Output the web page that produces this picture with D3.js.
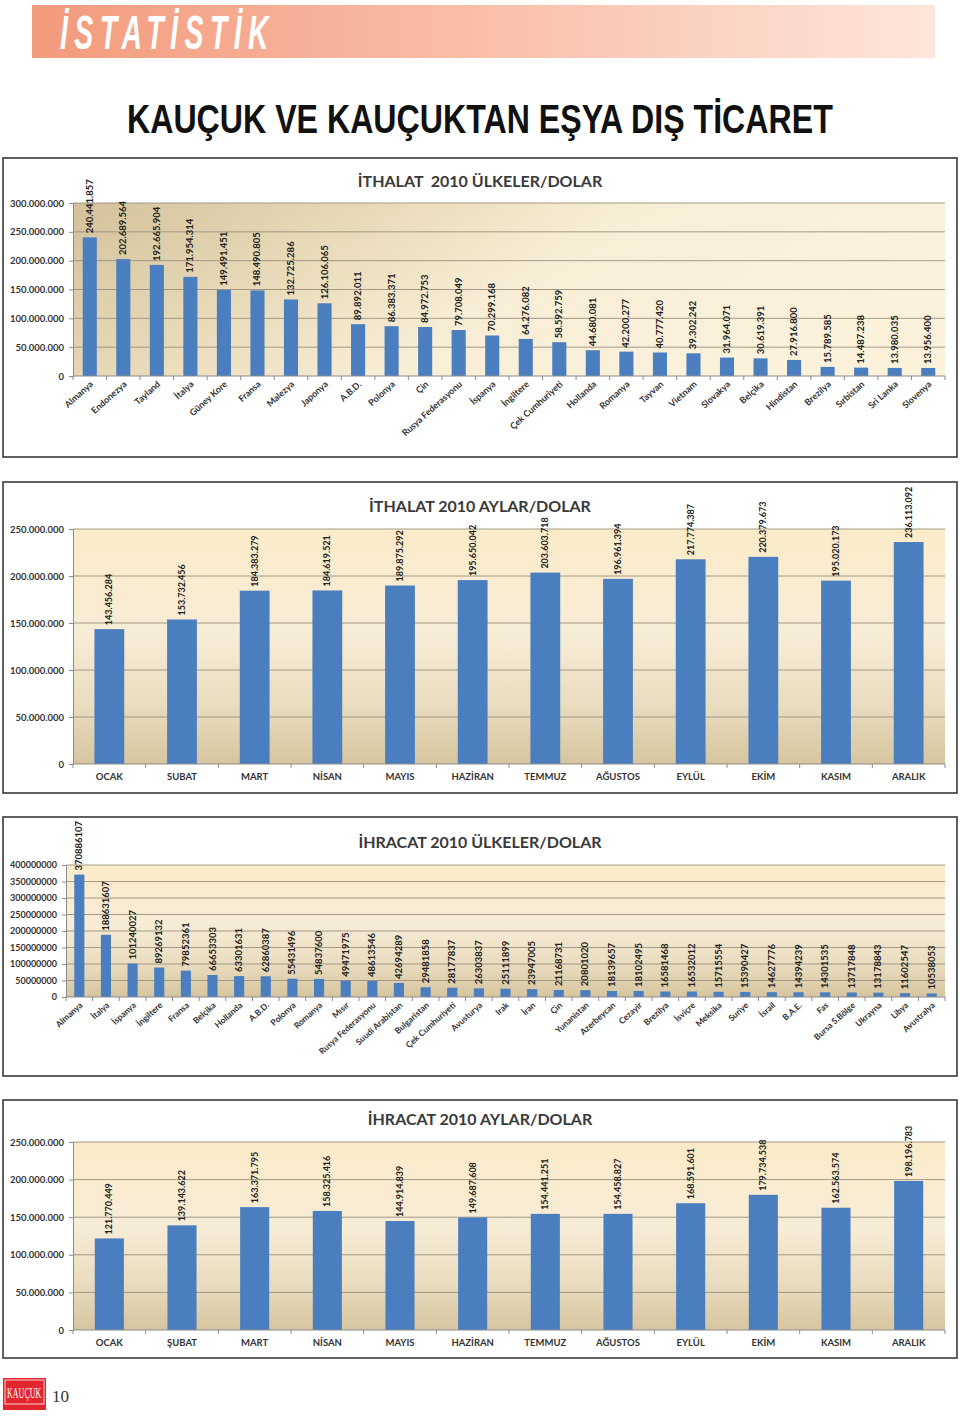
<!DOCTYPE html>
<html>
<head>
<meta charset="utf-8">
<script src="https://cdn.jsdelivr.net/npm/d3@7"></script>
<style>
  html, body { margin: 0; padding: 0; background: #ffffff; }
  svg { display: block; }
</style>
</head>
<body>
<svg id="page" width="960" height="1416"></svg>
<script>
// ---------- DATA ----------
const importCountries = ["Almanya","Endonezya","Tayland","İtalya","Güney Kore","Fransa","Malezya","Japonya","A.B.D.","Polonya","Çin","Rusya Federasyonu","İspanya","İngiltere","Çek Cumhuriyeti","Hollanda","Romanya","Tayvan","Vietnam","Slovakya","Belçika","Hindistan","Brezilya","Sırbistan","Sri Lanka","Slovenya"];
const importCountryValues = [240441857,202689564,192665904,171954314,149491451,148490805,132725286,126106065,89892011,86383371,84972753,79708049,70299168,64276082,58592759,44680081,42200277,40777420,39302242,31964071,30619391,27916800,15789585,14487238,13980035,13956400];

const importMonths = ["OCAK","SUBAT","MART","NİSAN","MAYIS","HAZİRAN","TEMMUZ","AĞUSTOS","EYLÜL","EKİM","KASIM","ARALIK"];
const importMonthValues = [143456284,153732456,184383279,184619521,189875292,195650042,203603718,196961394,217774387,220379673,195020173,236113092];

const exportCountries = ["Almanya","İtalya","İspanya","İngiltere","Fransa","Belçika","Hollanda","A.B.D.","Polonya","Romanya","Mısır","Rusya Federasyonu","Suudi Arabistan","Bulgaristan","Çek Cumhuriyeti","Avusturya","Irak","İran","Çin","Yunanistan","Azerbeycan","Cezayir","Brezilya","İsviçre","Meksika","Suriye","İsrail","B.A.E.","Fas","Bursa S.Bölge","Ukrayna","Libya","Avustralya"];
const exportCountryValues = [370886107,188631607,101240027,89269132,79852361,66653303,63301631,62860387,55431496,54837600,49471975,48613546,42694289,29481858,28177837,26303837,25111899,23947005,21168731,20801020,18139657,18102495,16581468,16532012,15715554,15390427,14627776,14394239,14301535,13717848,13178843,11602547,10538053];

const exportMonths = ["OCAK","ŞUBAT","MART","NİSAN","MAYIS","HAZİRAN","TEMMUZ","AĞUSTOS","EYLÜL","EKİM","KASIM","ARALIK"];
const exportMonthValues = [121770449,139143622,163371795,158325416,144914839,149687608,154441251,154458827,168591601,179734538,162563574,198196783];

const ticks300 = [0,50000000,100000000,150000000,200000000,250000000,300000000];
const ticks250 = [0,50000000,100000000,150000000,200000000,250000000];
const ticks400 = [0,50000000,100000000,150000000,200000000,250000000,300000000,350000000,400000000];

const headerText = "İSTATİSTİK";
const mainTitle = "KAUÇUK VE KAUÇUKTAN EŞYA DIŞ TİCARET";
const chartTitles = ["İTHALAT  2010 ÜLKELER/DOLAR","İTHALAT 2010 AYLAR/DOLAR","İHRACAT 2010 ÜLKELER/DOLAR","İHRACAT 2010 AYLAR/DOLAR"];
const pageNumber = "10";
const logoText = "KAUÇUK";

// ---------- SETUP ----------
const svg = d3.select("#page");
const defs = svg.append("defs");
const trLocale = d3.formatLocale({decimal: ",", thousands: ".", grouping: [3], currency: ["", ""]});
const fmtDot = trLocale.format(",d");
const fmtPlain = d3.format("d");
const FONT = "Lato, 'Open Sans', sans-serif";
const BAR = "#4a7ebf";

// fit a text horizontally to a width by scaling its group
function fittedText(x, y, width, sy, attrs, str) {
  const g = svg.append("g");
  const t = g.append("text").attr("x",0).attr("y",0);
  Object.entries(attrs).forEach(([k,v]) => t.attr(k,v));
  t.text(str);
  const w = t.node().getBBox().width;
  g.attr("transform",`translate(${x},${y}) scale(${width / w},${sy})`);
  return t;
}

// header gradient
const hg = defs.append("linearGradient").attr("id","hdr").attr("x1","0").attr("x2","1").attr("y1","0").attr("y2","0");
hg.append("stop").attr("offset","0%").attr("stop-color","#f39a7c");
hg.append("stop").attr("offset","45%").attr("stop-color","#f8bba4");
hg.append("stop").attr("offset","100%").attr("stop-color","#fde6da");

// plot background gradients
const gH = defs.append("linearGradient").attr("id","bgH").attr("x1","0").attr("x2","1").attr("y1","0").attr("y2","0.3");
gH.append("stop").attr("offset","0%").attr("stop-color","#d3c19b");
gH.append("stop").attr("offset","35%").attr("stop-color","#eadcbb");
gH.append("stop").attr("offset","60%").attr("stop-color","#f8eed6");
gH.append("stop").attr("offset","100%").attr("stop-color","#fcf2dc");

const gV = defs.append("linearGradient").attr("id","bgV").attr("x1","0").attr("x2","0").attr("y1","0").attr("y2","1");
gV.append("stop").attr("offset","0%").attr("stop-color","#fbebc9");
gV.append("stop").attr("offset","45%").attr("stop-color","#f7ecd6");
gV.append("stop").attr("offset","75%").attr("stop-color","#e9dcbf");
gV.append("stop").attr("offset","100%").attr("stop-color","#d6c59f");

// ---------- HEADER ----------
svg.append("rect").attr("x",32).attr("y",5).attr("width",903).attr("height",53).attr("fill","url(#hdr)");
fittedText(60, 49, 215, 1.2, {
  "font-family":"'Liberation Sans', Arial, sans-serif", "font-weight":"bold", "font-style":"italic",
  "font-size":40, "fill":"#ffffff", "letter-spacing":9
}, headerText);

fittedText(127, 133, 706, 1, {
  "font-family":"'Liberation Sans', Arial, sans-serif", "font-weight":"bold",
  "font-size":41, "fill":"#111111"
}, mainTitle);

// ---------- CHART FUNCTION ----------
function drawChart(cfg) {
  const g = svg.append("g");
  // frame
  g.append("rect").attr("x",cfg.box[0]).attr("y",cfg.box[1]).attr("width",cfg.box[2]).attr("height",cfg.box[3])
    .attr("fill","#ffffff").attr("stroke","#3a3a3a").attr("stroke-width",1.6);
  // title
  g.append("text").attr("x",480).attr("y",cfg.titleY).attr("text-anchor","middle")
    .style("white-space","pre")
    .attr("font-family",FONT).attr("font-weight","bold").attr("font-size",cfg.titleSize || 16)
    .attr("fill","#3a3a3a").text(cfg.title);

  const x = d3.scaleBand().domain(cfg.categories).range([cfg.x0, cfg.x1])
    .paddingInner(cfg.pad).paddingOuter(cfg.pad/2);
  const y = d3.scaleLinear().domain([0, cfg.yMax]).range([cfg.yBottom, cfg.yTop]);

  // background
  g.append("rect").attr("x",cfg.x0).attr("y",cfg.yTop).attr("width",cfg.x1-cfg.x0).attr("height",cfg.yBottom-cfg.yTop)
    .attr("fill",cfg.bg);

  // gridlines
  g.append("g").selectAll("line").data(cfg.ticks.filter(t => t > 0)).join("line")
    .attr("x1",cfg.x0).attr("x2",cfg.x1).attr("y1",d => y(d)).attr("y2",d => y(d))
    .attr("stroke","#9a917e").attr("stroke-width",0.9);

  // y axis
  const yAxis = d3.axisLeft(y).tickValues(cfg.ticks).tickFormat(cfg.tickFmt).tickSize(4).tickPadding(cfg.tickPad || 5);
  const ya = g.append("g").attr("transform",`translate(${cfg.x0},0)`).call(yAxis);
  ya.select(".domain").attr("stroke","#8c8c8c");
  ya.selectAll(".tick line").attr("stroke","#8c8c8c");
  ya.selectAll(".tick text").attr("font-family",FONT).attr("font-weight","bold").attr("font-size",cfg.yFont || 9.5).attr("fill","#333");

  // bars
  g.append("g").selectAll("rect").data(cfg.values).join("rect")
    .attr("x",(d,i) => x(cfg.categories[i])).attr("width",x.bandwidth())
    .attr("y",d => y(d)).attr("height",d => cfg.yBottom - y(d))
    .attr("fill",BAR);

  // value labels
  g.append("g").selectAll("text").data(cfg.values).join("text")
    .attr("transform",(d,i) => `translate(${x(cfg.categories[i]) + x.bandwidth()/2 + 3},${y(d) - 4}) rotate(-90)`)
    .attr("text-anchor","start")
    .attr("font-family",FONT).attr("font-weight","bold").attr("font-size",cfg.valFont || 9)
    .attr("fill","#222").text(d => cfg.valFmt(d));

  // x axis line and ticks at band boundaries
  g.append("line").attr("x1",cfg.x0).attr("x2",cfg.x1).attr("y1",cfg.yBottom).attr("y2",cfg.yBottom)
    .attr("stroke","#8c8c8c").attr("stroke-width",1);
  const bounds = d3.range(cfg.categories.length + 1).map(i => cfg.x0 + (cfg.x1 - cfg.x0) * i / cfg.categories.length);
  g.append("g").selectAll("line").data(bounds).join("line")
    .attr("x1",d => d).attr("x2",d => d).attr("y1",cfg.yBottom).attr("y2",cfg.yBottom + 4)
    .attr("stroke","#8c8c8c");

  // category labels
  if (cfg.rotate) {
    g.append("g").selectAll("text").data(cfg.categories).join("text")
      .attr("transform",d => `translate(${x(d) + x.bandwidth()/2 + 4},${cfg.yBottom + 9}) rotate(-42)`)
      .attr("text-anchor","end")
      .attr("font-family",FONT).attr("font-weight","bold").attr("font-size",cfg.catFont || 9)
      .attr("fill","#333").text(d => d);
  } else {
    g.append("g").selectAll("text").data(cfg.categories).join("text")
      .attr("x",d => x(d) + x.bandwidth()/2).attr("y",cfg.yBottom + 16)
      .attr("text-anchor","middle")
      .attr("font-family",FONT).attr("font-weight","bold").attr("font-size",cfg.catFont || 9.5)
      .attr("fill","#333").text(d => d);
  }
}

drawChart({
  box:[3,158,954,299], title:chartTitles[0], titleY:187,
  categories:importCountries, values:importCountryValues,
  x0:73, x1:945, yTop:203, yBottom:376, yMax:300000000, ticks:ticks300,
  tickFmt:fmtDot, valFmt:fmtDot, pad:0.58, bg:"url(#bgH)", rotate:true, valFont:9.5
});

drawChart({
  box:[3,482,954,311], title:chartTitles[1], titleY:512,
  categories:importMonths, values:importMonthValues,
  x0:73, x1:945, yTop:529, yBottom:764, yMax:250000000, ticks:ticks250,
  tickFmt:fmtDot, valFmt:fmtDot, pad:0.59, bg:"url(#bgV)", rotate:false
});

drawChart({
  box:[3,817,954,259], title:chartTitles[2], titleY:848,
  categories:exportCountries, values:exportCountryValues,
  x0:66, x1:945, yTop:865, yBottom:997, yMax:400000000, ticks:ticks400,
  tickFmt:fmtPlain, valFmt:fmtPlain, pad:0.62, bg:"url(#bgV)", rotate:true, catFont:8.5, valFont:9.5, yFont:9
});

drawChart({
  box:[3,1100,954,258], title:chartTitles[3], titleY:1125,
  categories:exportMonths, values:exportMonthValues,
  x0:73, x1:945, yTop:1142, yBottom:1330, yMax:250000000, ticks:ticks250,
  tickFmt:fmtDot, valFmt:fmtDot, pad:0.6, bg:"url(#bgV)", rotate:false
});

// ---------- FOOTER ----------
svg.append("rect").attr("x",3).attr("y",1378).attr("width",43).attr("height",32).attr("fill","#e3262d");
svg.append("rect").attr("x",5).attr("y",1380).attr("width",39).attr("height",24).attr("fill","none").attr("stroke","#ffffff").attr("stroke-width",0.8);
fittedText(7, 1398, 35, 1.4, {
  "font-family":"'Liberation Serif', serif", "font-size":10, "fill":"#ffffff"
}, logoText);
svg.append("text").attr("x",52).attr("y",1402)
  .attr("font-family","'Liberation Serif', serif").attr("font-size",17).attr("fill","#333")
  .text(pageNumber);
</script>
</body>
</html>
